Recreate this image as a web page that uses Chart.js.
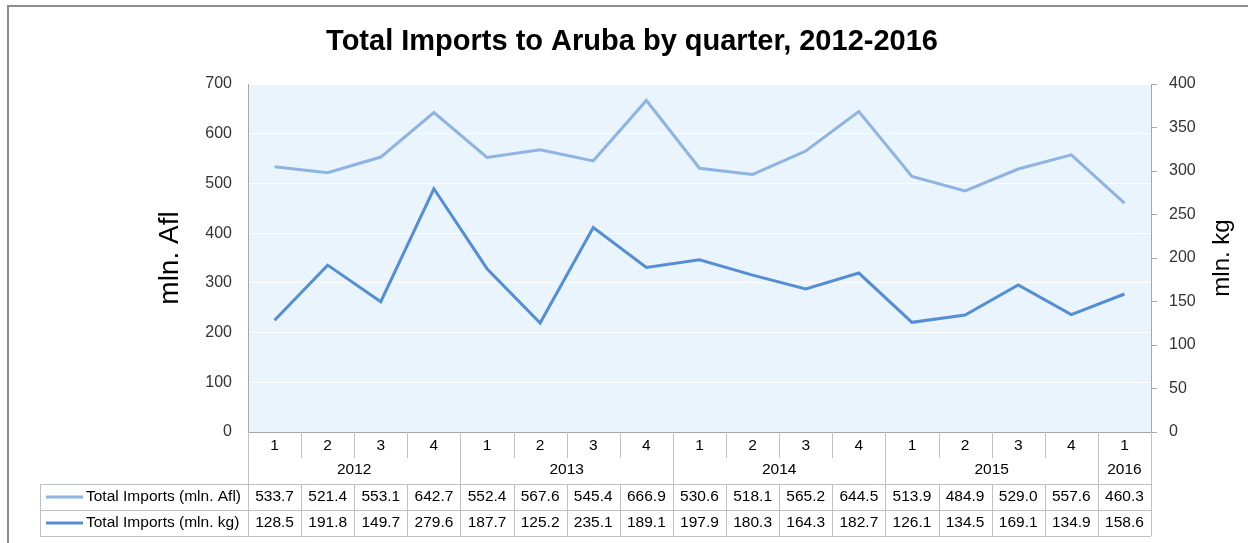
<!DOCTYPE html>
<html>
<head>
<meta charset="utf-8">
<title>Total Imports to Aruba by quarter, 2012-2016</title>
<script src="https://cdn.jsdelivr.net/npm/chart.js@4/dist/chart.umd.min.js"></script>
<style>
  html, body { margin: 0; padding: 0; background: #fff; }
  #wrap { width: 1248px; height: 543px; position: relative; }
</style>
</head>
<body>
<div id="wrap"><canvas id="importsChart"></canvas></div>
<script>
var quarters = ['1', '2', '3', '4', '1', '2', '3', '4', '1', '2', '3', '4', '1', '2', '3', '4', '1'];
var years = ['2012', '2013', '2014', '2015', '2016'];
var quartersPerYear = [4, 4, 4, 4, 1];
var importsAfl = [533.7, 521.4, 553.1, 642.7, 552.4, 567.6, 545.4, 666.9, 530.6, 518.1, 565.2, 644.5, 513.9, 484.9, 529.0, 557.6, 460.3];
var importsKg = [128.5, 191.8, 149.7, 279.6, 187.7, 125.2, 235.1, 189.1, 197.9, 180.3, 164.3, 182.7, 126.1, 134.5, 169.1, 134.9, 158.6];
var seriesNames = ['Total Imports (mln. Afl)', 'Total Imports (mln. kg)'];
var seriesColors = ['#8EB4E3', '#558ED5'];

var FONT = '"Liberation Sans", Arial, sans-serif';
var lineGray = '#A6A6A6';

// plot background, outer border, data table and right axis title
var tablePlugin = {
  id: 'dataTable',
  beforeDraw: function(chart) {
    var ctx = chart.ctx, a = chart.chartArea;
    ctx.save();
    ctx.fillStyle = '#EAF4FC';
    ctx.fillRect(a.left, a.top, a.right - a.left, a.bottom - a.top);
    ctx.strokeStyle = '#8C8C8C';
    ctx.lineWidth = 2;
    ctx.beginPath();
    ctx.moveTo(8, chart.height);
    ctx.lineTo(8, 6);
    ctx.lineTo(chart.width, 6);
    ctx.stroke();
    ctx.restore();
  },
  afterDraw: function(chart) {
    var ctx = chart.ctx, a = chart.chartArea, xs = chart.scales.x;
    var n = quarters.length;
    var colW = (a.right - a.left) / n;
    var rowQ = Math.round(a.bottom), rowY = rowQ + 26, rowS1 = rowQ + 52, rowS2 = rowS1 + 26, rowEnd = rowS2 + 26;
    var tableLeft = 40;

    function hline(x1, x2, y) { ctx.beginPath(); ctx.moveTo(x1, y + 0.5); ctx.lineTo(x2, y + 0.5); ctx.stroke(); }
    function vline(x, y1, y2) { x = Math.round(x) + 0.5; ctx.beginPath(); ctx.moveTo(x, y1); ctx.lineTo(x, y2); ctx.stroke(); }

    ctx.save();
    ctx.strokeStyle = lineGray;
    ctx.lineWidth = 1;
    hline(a.left, a.right, rowQ);
    ctx.strokeStyle = '#C0C0C0';
    hline(tableLeft, a.right, rowS1);
    hline(tableLeft, a.right, rowS2);
    hline(tableLeft, a.right, rowEnd);
    vline(tableLeft, rowS1, rowEnd);

    // year boundaries
    var bounds = {0: true}, acc = 0;
    for (var k = 0; k < quartersPerYear.length; k++) { acc += quartersPerYear[k]; bounds[acc] = true; }
    for (var i = 0; i <= n; i++) {
      var xb = a.left + i * colW;
      if (bounds[i]) {
        vline(xb, rowQ, rowEnd);
      } else {
        vline(xb, rowQ, rowY);
        vline(xb, rowS1, rowEnd);
      }
    }

    ctx.fillStyle = '#000';
    ctx.font = '15.5px ' + FONT;
    ctx.textAlign = 'center';
    ctx.textBaseline = 'middle';
    for (var q = 0; q < n; q++) {
      var cx = xs.getPixelForValue(q);
      ctx.fillText(quarters[q], cx, rowQ + 14);
      ctx.fillText(importsAfl[q].toFixed(1), cx, rowS1 + 13);
      ctx.fillText(importsKg[q].toFixed(1), cx, rowS2 + 13);
    }
    var start = 0;
    for (var y = 0; y < years.length; y++) {
      var x1 = a.left + start * colW, x2 = a.left + (start + quartersPerYear[y]) * colW;
      ctx.fillText(years[y], (x1 + x2) / 2, rowY + 12);
      start += quartersPerYear[y];
    }

    // legend keys
    var rows = [rowS1, rowS2];
    ctx.textAlign = 'left';
    for (var s = 0; s < seriesNames.length; s++) {
      var cy = rows[s] + 13;
      ctx.strokeStyle = seriesColors[s];
      ctx.lineWidth = 3;
      ctx.beginPath(); ctx.moveTo(46, cy); ctx.lineTo(83, cy); ctx.stroke();
      ctx.fillStyle = '#000';
      ctx.fillText(seriesNames[s], 86, cy);
    }

    // right axis title, reading bottom to top
    ctx.save();
    ctx.translate(1222, (a.top + a.bottom) / 2);
    ctx.rotate(-Math.PI / 2);
    ctx.font = '24px ' + FONT;
    ctx.textAlign = 'center';
    ctx.fillText('mln. kg', 0, 0);
    ctx.restore();

    ctx.restore();
  }
};

var ctx = document.getElementById('importsChart');
var chart = new Chart(ctx, {
  type: 'line',
  data: {
    labels: quarters,
    datasets: [{
      label: seriesNames[0],
      data: importsAfl,
      yAxisID: 'y',
      borderColor: seriesColors[0],
      borderWidth: 3,
      pointRadius: 0,
      tension: 0,
      fill: false
    }, {
      label: seriesNames[1],
      data: importsKg,
      yAxisID: 'y1',
      borderColor: seriesColors[1],
      borderWidth: 3,
      pointRadius: 0,
      tension: 0,
      fill: false
    }]
  },
  options: {
    responsive: true,
    maintainAspectRatio: false,
    animation: false,
    layout: { padding: { left: 16, right: 0, top: 0, bottom: 111 } },
    plugins: {
      legend: { display: false },
      tooltip: { enabled: false },
      title: {
        display: true,
        text: 'Total Imports to Aruba by quarter, 2012-2016',
        color: '#000',
        font: { family: FONT, size: 29, weight: 'bold' },
        padding: { top: 25, bottom: 24.2 }
      }
    },
    scales: {
      x: {
        display: false,
        offset: true
      },
      y: {
        position: 'left',
        min: 0,
        max: 700,
        ticks: { stepSize: 100, padding: 16, color: '#333', font: { family: FONT, size: 16 } },
        grid: { color: '#FFFFFF', lineWidth: 1, drawTicks: false },
        border: { display: true, color: lineGray, width: 1 },
        title: {
          display: true,
          text: 'mln. Afl',
          color: '#000',
          font: { family: FONT, size: 28 },
          padding: { top: 137, bottom: 0 }
        },
        afterFit: function(scale) { scale.width = 232; }
      },
      y1: {
        position: 'right',
        min: 0,
        max: 400,
        ticks: { stepSize: 50, padding: 12, color: '#333', font: { family: FONT, size: 16 } },
        grid: { drawOnChartArea: false, drawTicks: true, tickLength: 6, tickColor: lineGray },
        border: { display: true, color: lineGray, width: 1 },
        afterFit: function(scale) { scale.width = 97; }
      }
    }
  },
  plugins: [tablePlugin]
});
</script>
</body>
</html>
